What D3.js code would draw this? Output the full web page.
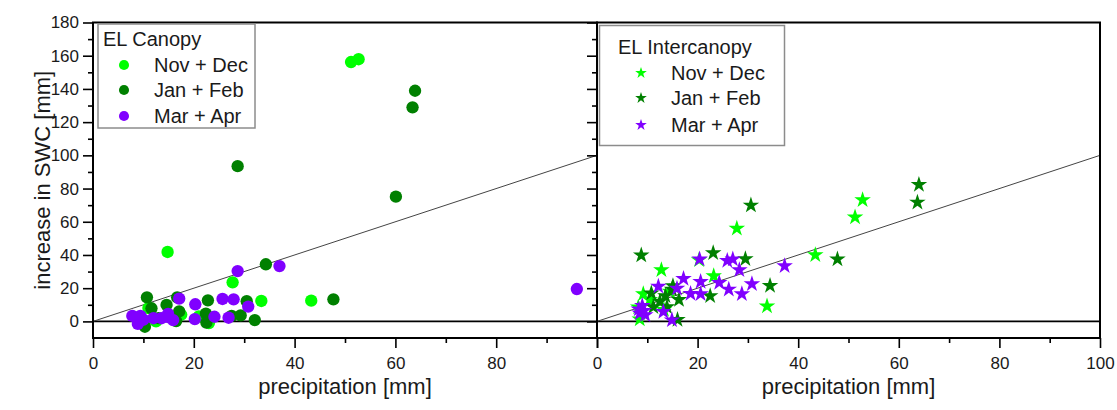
<!DOCTYPE html>
<html>
<head>
<meta charset="utf-8">
<script src="https://cdn.jsdelivr.net/npm/d3@7"></script>
<style>
  body { margin: 0; background: #fff; }
  svg { display: block; }
  text { font-family: "Liberation Sans", Arial, sans-serif; fill: #1a1a1a; }
</style>
</head>
<body>
<svg id="chart" width="1117" height="410"></svg>
<script>
// ---- data: [precipitation mm, increase in SWC mm] ----
const seriesNames = ["Nov + Dec", "Jan + Feb", "Mar + Apr"];

const canopyNovDec = [
  [51.2, 156.2], [52.7, 157.9], [14.8, 41.8], [27.7, 23.5], [33.4, 12.3], [43.3, 12.5],
  [9.5, -1.0], [12.5, 0.0], [17.5, 4.0], [23.0, -1.0], [21.0, 3.0], [11.0, 8.0]
];
const canopyJanFeb = [
  [63.9, 138.9], [63.4, 128.9], [60.1, 75.1], [47.7, 13.3], [28.7, 93.5], [34.3, 34.4],
  [10.7, 14.5], [16.7, 14.5], [22.8, 12.7], [30.5, 12.2], [14.6, 9.9], [11.6, 7.9],
  [17.1, 6.0], [22.4, 4.7], [27.5, 3.3], [29.3, 3.6], [32.1, 0.8], [22.5, -0.7],
  [10.3, -3.2], [16.5, 0.2], [13.0, 2.0], [9.0, 1.0]
];
const canopyMarApr = [
  [96.0, 19.5], [37.0, 33.3], [28.7, 30.3], [17.1, 13.7], [25.7, 13.5], [27.9, 13.3],
  [20.3, 10.3], [30.8, 8.9], [24.1, 2.8], [26.9, 2.2], [20.2, 1.4], [14.9, 4.5],
  [15.9, 0.8], [13.6, 1.9], [12.0, 1.9], [7.8, 3.3], [9.4, 3.3], [8.9, -1.5],
  [10.0, 1.0], [15.0, 2.5]
];

const interNovDec = [
  [52.8, 73.1], [51.3, 62.7], [27.8, 56.0], [43.4, 40.0], [33.8, 9.2], [23.2, 27.3],
  [20.3, 37.0], [12.8, 31.0], [9.2, 16.5], [8.2, 8.5], [8.5, 1.3], [13.3, 7.0],
  [10.5, 13.0], [14.5, 18.0]
];
const interJanFeb = [
  [64.0, 82.3], [63.7, 71.7], [30.6, 69.9], [47.8, 37.4], [34.4, 21.5], [29.5, 37.6],
  [23.1, 41.2], [22.5, 15.3], [8.8, 39.8], [16.0, 1.0], [14.9, 19.3], [13.9, 8.7],
  [10.8, 17.0], [11.2, 8.7], [13.6, 15.3], [16.3, 13.0], [15.1, 21.3], [12.5, 12.0]
];
const interMarApr = [
  [37.3, 33.4], [20.4, 37.4], [25.9, 36.6], [27.0, 37.4], [28.3, 31.0], [30.8, 22.5],
  [28.8, 16.5], [26.2, 19.3], [24.3, 23.3], [20.6, 23.9], [20.6, 16.5], [18.6, 16.7],
  [17.2, 25.7], [15.9, 19.9], [12.2, 21.0], [13.2, 5.8], [14.9, 0.8], [9.0, 9.5],
  [8.5, 4.9], [9.6, 3.9], [8.3, 7.3], [9.3, 6.5]
];

// one-to-one reference line
const oneToOne = [[0, 0], [100, 100]];

const xMajorTicks = [0, 20, 40, 60, 80, 100];
const xMinorTicks = [10, 30, 50, 70, 90];
const yMajorTicks = [0, 20, 40, 60, 80, 100, 120, 140, 160, 180];
const yMinorTicks = [10, 30, 50, 70, 90, 110, 130, 150, 170];

const seriesColors = ["#00ff00", "#008000", "#8000ff"];

// ---- layout ----
const svg = d3.select("#chart");
const plotTop = 22.5, plotBottom = 338;
const y = d3.scaleLinear().domain([-10, 180]).range([plotBottom, plotTop]);

const panels = [
  { title: "EL Canopy", x0: 93, x1: 597, symbol: d3.symbolCircle, size: 120, legendSize: 80,
    series: [canopyNovDec, canopyJanFeb, canopyMarApr], xLabels: [0, 20, 40, 60, 80],
    yLabels: true,
    legend: { x: 98, y: 24, w: 157, h: 104, titleX: 103, titleY: 46, markX: 124, textX: 154, rowY: [65, 90, 116] } },
  { title: "EL Intercanopy", x0: 597, x1: 1100, symbol: d3.symbolStar, size: 85, legendSize: 42,
    series: [interNovDec, interJanFeb, interMarApr], xLabels: [0, 20, 40, 60, 80, 100],
    yLabels: false,
    legend: { x: 599.5, y: 25.5, w: 185, h: 120, titleX: 618, titleY: 54, markX: 641, textX: 671, rowY: [73, 98, 125] } }
];

panels.forEach(p => {
  const x = d3.scaleLinear().domain([0, 100]).range([p.x0, p.x1]);
  const g = svg.append("g");

  // zero line
  g.append("line")
    .attr("x1", x(0)).attr("x2", x(100))
    .attr("y1", y(0)).attr("y2", y(0))
    .attr("stroke", "#000").attr("stroke-width", 1.6);

  // 1:1 line
  g.append("path")
    .attr("d", d3.line().x(d => x(d[0])).y(d => y(d[1]))(oneToOne))
    .attr("fill", "none").attr("stroke", "#444").attr("stroke-width", 1);

  // points
  p.series.forEach((data, i) => {
    g.append("g").selectAll("path")
      .data(data)
      .join("path")
      .attr("transform", d => `translate(${x(d[0])},${y(d[1])})`)
      .attr("d", d3.symbol().type(p.symbol).size(p.size)())
      .attr("fill", seriesColors[i]);
  });

  // x axis
  const xMajor = g.append("g").attr("transform", `translate(0,${plotBottom})`)
    .call(d3.axisBottom(x).tickValues(xMajorTicks).tickSize(10).tickSizeOuter(0)
      .tickFormat(d => p.xLabels.includes(d) ? d : ""));
  const xMinor = g.append("g").attr("transform", `translate(0,${plotBottom})`)
    .call(d3.axisBottom(x).tickValues(xMinorTicks).tickSize(5).tickSizeOuter(0).tickFormat(""));

  // y axis
  const yMajor = g.append("g").attr("transform", `translate(${p.x0},0)`)
    .call(d3.axisLeft(y).tickValues(yMajorTicks).tickSize(10).tickSizeOuter(0)
      .tickFormat(d => p.yLabels ? d : ""));
  const yMinor = g.append("g").attr("transform", `translate(${p.x0},0)`)
    .call(d3.axisLeft(y).tickValues(yMinorTicks).tickSize(5).tickSizeOuter(0).tickFormat(""));

  [xMajor, xMinor, yMajor, yMinor].forEach(a => {
    a.select(".domain").remove();
    a.selectAll(".tick line").attr("stroke", "#000").attr("stroke-width", 1.6);
    a.selectAll(".tick text").attr("font-size", 17).style("font-family", '"Liberation Sans", Arial, sans-serif').attr("fill", "#1a1a1a");
  });
  xMajor.selectAll(".tick text").attr("dy", "1.05em");
  yMajor.selectAll(".tick text").attr("x", -14);

  // frame
  g.append("rect")
    .attr("x", p.x0).attr("y", plotTop)
    .attr("width", p.x1 - p.x0).attr("height", plotBottom - plotTop)
    .attr("fill", "none").attr("stroke", "#000").attr("stroke-width", 2);

  // x title
  g.append("text")
    .attr("x", (p.x0 + p.x1) / 2).attr("y", 394)
    .attr("text-anchor", "middle").attr("font-size", 22)
    .text("precipitation [mm]");

  // legend
  const L = p.legend;
  const lg = g.append("g");
  lg.append("rect")
    .attr("x", L.x).attr("y", L.y).attr("width", L.w).attr("height", L.h)
    .attr("fill", "#fff").attr("stroke", "#8c8c8c").attr("stroke-width", 1.5);
  lg.append("text").attr("x", L.titleX).attr("y", L.titleY)
    .attr("font-size", 20).text(p.title);
  seriesNames.forEach((name, i) => {
    lg.append("path")
      .attr("transform", `translate(${L.markX},${L.rowY[i]})`)
      .attr("d", d3.symbol().type(p.symbol).size(p.legendSize)())
      .attr("fill", seriesColors[i]);
    lg.append("text").attr("x", L.textX).attr("y", L.rowY[i] + 7)
      .attr("font-size", 20).text(name);
  });
});

// y title
svg.append("text")
  .attr("transform", `translate(50,${(plotTop + plotBottom) / 2}) rotate(-90)`)
  .attr("text-anchor", "middle").attr("font-size", 22)
  .text("increase in SWC [mm]");
</script>
</body>
</html>
